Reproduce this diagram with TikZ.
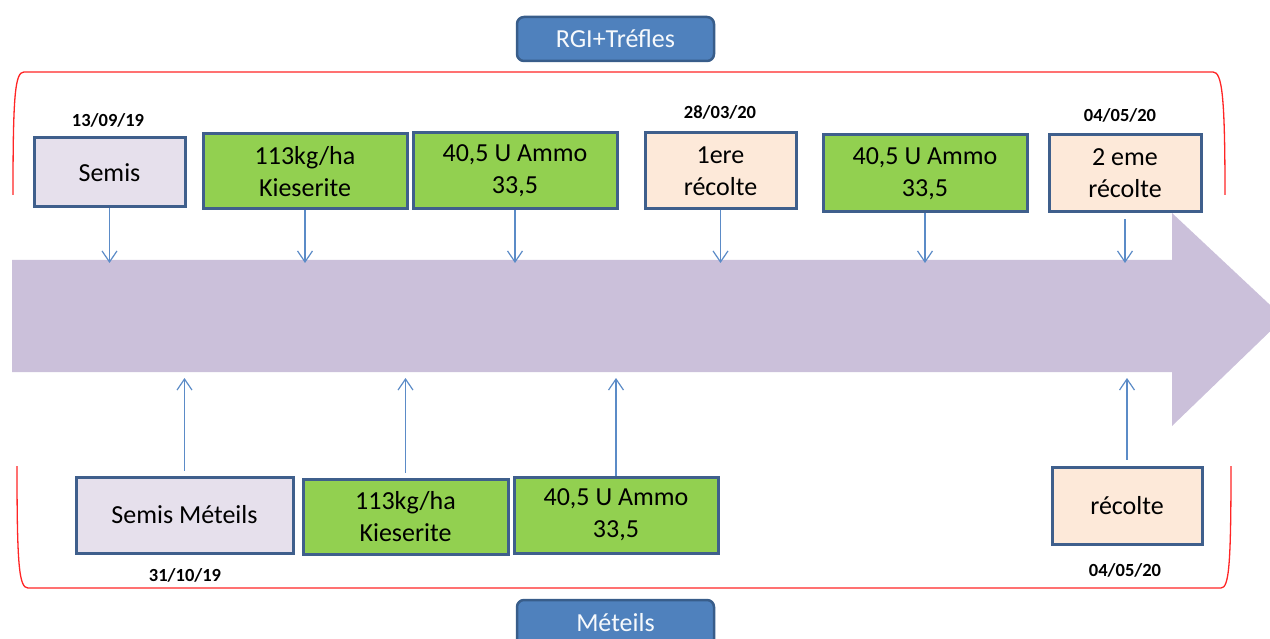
\documentclass[tikz,border=0pt]{standalone}
\usepackage{fontspec}
\setmainfont{Carlito}
\usetikzlibrary{arrows.meta}
\definecolor{arrowfill}{HTML}{CBC0DA}
\definecolor{boxline}{HTML}{3F5F8C}
\definecolor{lav}{HTML}{E6E0EC}
\definecolor{grn}{HTML}{92D050}
\definecolor{peach}{HTML}{FDE9D9}
\definecolor{ttl}{HTML}{4F81BD}
\definecolor{ttlline}{HTML}{385D8A}
\definecolor{connc}{HTML}{5B8BC7}
\definecolor{brk}{HTML}{FF2525}
\begin{document}
\begin{tikzpicture}[x=1pt,y=-1pt,
  stepbox/.style={draw=boxline, line width=3pt, align=center, inner sep=0pt,
    font=\fontsize{26}{32}\selectfont, text=black},
  titlebox/.style={draw=ttlline, fill=ttl, line width=2.5pt, rounded corners=7pt,
    inner sep=0pt, font=\fontsize{26}{32}\selectfont, text=white!95!ttl},
  datelbl/.style={inner sep=0pt, font=\fontsize{18.5}{20}\selectfont\bfseries, text=black},
  conn/.style={draw=connc, line width=1.2pt, -{Straight Barb[length=11pt,width=15pt,line width=1.2pt]}},
  bracket/.style={draw=brk, line width=1.3pt}]
\useasboundingbox (0,0) rectangle (1270,639);

% big timeline arrow
\fill[arrowfill] (12,260) -- (1172,260) -- (1172,213) -- (1284,318) -- (1172,426) -- (1172,372) -- (12,372) -- cycle;
\coordinate (atop) at (0,263);
\coordinate (abot) at (0,378);

% red brackets
\draw[bracket] (13,195) .. controls (13,95) and (15,72) .. (24,72) -- (1213,72)
  .. controls (1222,72) and (1225,95) .. (1225,195);
\draw[bracket] (17,466) .. controls (17,565) and (19,588) .. (28,588) -- (1221,588)
  .. controls (1229,588) and (1231,565) .. (1231,466);

% title boxes
\node[titlebox, minimum width=197pt, minimum height=44pt] (rgi) at (615.5,39) {RGI+Tréfles};
\node[titlebox, minimum width=197pt, minimum height=46pt] (met) at (615.5,623) {Méteils};

% top boxes
\node[stepbox, fill=lav, minimum width=151pt, minimum height=69pt] (t1) at (109.5,172.5) {Semis};
\node[stepbox, fill=grn, minimum width=204pt, minimum height=75pt] (t2) at (305,171.5) {113kg/ha\\Kieserite};
\node[stepbox, fill=grn, minimum width=204pt, minimum height=76pt] (t3) at (515,171) {40,5 U Ammo\\33,5};
\node[stepbox, fill=peach, minimum width=151pt, minimum height=76pt] (t4) at (720.5,171) {1ere\\récolte};
\node[stepbox, fill=grn, minimum width=204pt, minimum height=77pt] (t5) at (925,173.5) {40,5 U Ammo\\33,5};
\node[stepbox, fill=peach, minimum width=152pt, minimum height=77pt] (t6) at (1125,173.5) {2 eme\\récolte};

% top dates
\node[datelbl] (d1) at (108,120) {13/09/19};
\node[datelbl] (d4) at (720,112) {28/03/20};
\node[datelbl] (d6) at (1120,115) {04/05/20};

% bottom boxes
\node[stepbox, fill=lav, minimum width=217pt, minimum height=76pt] (b1) at (184.5,515) {Semis Méteils};
\node[stepbox, fill=grn, minimum width=205pt, minimum height=75pt] (b2) at (405.5,516.5) {113kg/ha\\Kieserite};
\node[stepbox, fill=grn, minimum width=204pt, minimum height=76pt] (b3) at (616,515) {40,5 U Ammo\\33,5};
\node[stepbox, fill=peach, minimum width=150pt, minimum height=77pt] (b4) at (1127,505.5) {récolte};

% bottom dates
\node[datelbl] (e1) at (185,575) {31/10/19};
\node[datelbl] (e4) at (1125,570) {04/05/20};

% connectors to the timeline
\foreach \n in {t1,t2,t3,t4,t5}{
  \draw[conn] (\n.south) -- (\n.south |- atop);
}
\draw[conn] ([yshift=-6pt]t6.south) -- (t6.south |- atop);
\foreach \n in {b1,b2}{
  \draw[conn] ([yshift=5pt]\n.north) -- (\n.north |- abot);
}
\draw[conn] (b3.north) -- (b3.north |- abot);
\draw[conn] ([yshift=6pt]b4.north) -- (b4.north |- abot);
\end{tikzpicture}
\end{document}
